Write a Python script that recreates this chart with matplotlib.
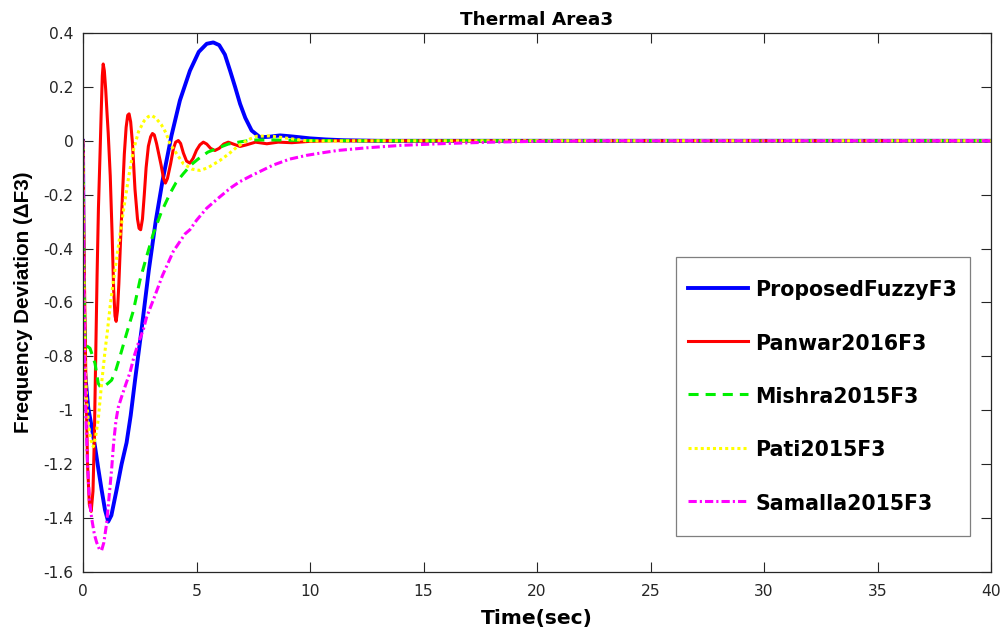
import matplotlib
matplotlib.use("Agg")
import matplotlib.pyplot as plt
from matplotlib.legend_handler import HandlerLine2D

plt.rcParams['font.family'] = ['DejaVu Sans']
plt.rcParams['axes.unicode_minus'] = False

# ---------------- data ----------------
series_labels = ["ProposedFuzzyF3", "Panwar2016F3", "Mishra2015F3", "Pati2015F3", "Samalla2015F3"]

t_fuzzy = [0, 0.03, 0.09, 0.23, 0.4, 0.53, 0.68, 0.82, 0.97, 1.11, 1.25, 1.48, 1.7, 1.92, 2.1,
           2.29, 2.58, 2.9, 3.2, 3.5, 3.9, 4.27, 4.71, 5.1, 5.45, 5.74, 6.0, 6.25, 6.48, 6.7,
           6.92, 7.15, 7.43, 7.8, 8.2, 8.68, 9.1, 9.56, 10.0, 10.7, 11.5, 13, 40]
v_fuzzy = [0, -0.55, -0.86, -0.99, -1.07, -1.135, -1.22, -1.295, -1.37, -1.413, -1.39, -1.295, -1.2, -1.12, -1.02,
           -0.89, -0.70, -0.48, -0.30, -0.15, 0.02, 0.15, 0.26, 0.33, 0.36, 0.365, 0.355, 0.32, 0.26, 0.2,
           0.137, 0.085, 0.038, 0.013, 0.015, 0.02, 0.017, 0.013, 0.009, 0.005, 0.002, 0, 0]

t_panwar = [0, 0.05, 0.12, 0.2, 0.28, 0.36, 0.44, 0.5, 0.56, 0.62, 0.68, 0.75, 0.8, 0.85, 0.89,
            0.94, 1.0, 1.06, 1.11, 1.2, 1.28, 1.35, 1.41, 1.46, 1.52, 1.58, 1.65, 1.74, 1.82, 1.9,
            1.97, 2.03, 2.1, 2.18, 2.29, 2.4, 2.47, 2.54, 2.62, 2.7, 2.78, 2.88, 2.98, 3.06, 3.14,
            3.24, 3.34, 3.44, 3.55, 3.63, 3.72, 3.86, 3.98, 4.08, 4.2, 4.3, 4.42, 4.56, 4.71, 4.85,
            5.0, 5.15, 5.3, 5.45, 5.62, 5.81, 6.0, 6.2, 6.4, 6.65, 6.92, 7.2, 7.6, 8.1, 8.6,
            9.2, 10, 11, 40]
v_panwar = [0, -0.45, -0.85, -1.2, -1.35, -1.375, -1.3, -1.1, -0.8, -0.5, -0.25, -0.05, 0.1, 0.24, 0.285,
            0.26, 0.19, 0.1, 0.03, -0.13, -0.34, -0.55, -0.65, -0.67, -0.63, -0.53, -0.38, -0.2, -0.05, 0.05,
            0.095, 0.10, 0.07, -0.01, -0.18, -0.29, -0.325, -0.33, -0.29, -0.2, -0.1, -0.02, 0.015, 0.027, 0.022,
            -0.01, -0.05, -0.09, -0.14, -0.157, -0.14, -0.085, -0.03, -0.005, 0.001, -0.01, -0.045, -0.075, -0.083, -0.065,
            -0.035, -0.015, -0.005, -0.012, -0.028, -0.036, -0.028, -0.012, -0.005, -0.013, -0.021, -0.015, -0.005, -0.011, -0.005,
            -0.007, -0.002, 0, 0]

t_mishra = [0, 0.03, 0.08, 0.15, 0.31, 0.53, 0.67, 0.78, 0.95, 1.1, 1.26, 1.45, 1.63, 1.92, 2.22,
            2.51, 2.8, 3.1, 3.45, 3.83, 4.1, 4.42, 4.75, 5.08, 5.5, 6.03, 6.4, 6.92, 7.5, 8.5,
            10, 12, 40]
v_mishra = [0, -0.45, -0.72, -0.76, -0.77, -0.826, -0.9, -0.915, -0.91, -0.9, -0.888, -0.85, -0.80, -0.715, -0.63,
            -0.517, -0.43, -0.344, -0.265, -0.196, -0.155, -0.122, -0.09, -0.067, -0.042, -0.024, -0.012, -0.004, 0.003, 0.003,
            0.001, 0, 0]

t_pati = [0, 0.03, 0.08, 0.15, 0.25, 0.35, 0.45, 0.55, 0.67, 0.82, 0.97, 1.07, 1.2, 1.34, 1.56,
          1.78, 2.0, 2.22, 2.45, 2.7, 2.88, 3.02, 3.2, 3.45, 3.65, 3.83, 4.1, 4.42, 4.8, 5.15,
          5.5, 6.03, 6.4, 6.77, 7.1, 7.36, 7.65, 8.2, 8.7, 9.3, 9.85, 11, 12, 40]
v_pati = [0, -0.45, -0.8, -0.95, -1.06, -1.11, -1.135, -1.1, -1.035, -0.9, -0.78, -0.71, -0.61, -0.52, -0.39,
          -0.26, -0.14, -0.035, 0.035, 0.075, 0.09, 0.094, 0.085, 0.06, 0.03, -0.011, -0.045, -0.085, -0.105, -0.11,
          -0.1, -0.073, -0.05, -0.024, -0.005, 0.007, 0.017, 0.018, 0.013, 0.006, 0.0, -0.001, 0, 0]

t_samalla = [0, 0.03, 0.07, 0.12, 0.2, 0.28, 0.38, 0.5, 0.6, 0.72, 0.82, 0.92, 1.04, 1.15, 1.26,
             1.35, 1.45, 1.55, 1.7, 1.9, 2.07, 2.25, 2.44, 2.66, 2.8, 3.1, 3.5, 3.98, 4.5, 4.71,
             5.0, 5.45, 6.0, 6.5, 6.9, 7.4, 8.38, 9.1, 9.85, 10.5, 11.2, 12.5, 14, 16, 18,
             20, 23, 40]
v_samalla = [0, -0.45, -0.8, -1.0, -1.2, -1.33, -1.40, -1.46, -1.49, -1.515, -1.52, -1.49, -1.42, -1.32, -1.22,
             -1.12, -1.04, -0.99, -0.95, -0.90, -0.86, -0.80, -0.75, -0.70, -0.655, -0.59, -0.50, -0.41, -0.345, -0.33,
             -0.295, -0.25, -0.21, -0.175, -0.152, -0.13, -0.09, -0.068, -0.054, -0.045, -0.036, -0.026, -0.017, -0.01, -0.005,
             -0.002, 0, 0]

x_ticks = [0, 5, 10, 15, 20, 25, 30, 35, 40]
y_ticks = [-1.6, -1.4, -1.2, -1, -0.8, -0.6, -0.4, -0.2, 0, 0.2, 0.4]
y_tick_labels = ["-1.6", "-1.4", "-1.2", "-1", "-0.8", "-0.6", "-0.4", "-0.2", "0", "0.2", "0.4"]

# ---------------- figure ----------------
fig = plt.figure(figsize=(10.03, 6.30), dpi=100)
ax = fig.add_axes([83 / 1003, 1 - 572 / 630, (991 - 83) / 1003, (572 - 33) / 630])

lines = []
lines += ax.plot(t_fuzzy, v_fuzzy, color='#0000ff', lw=2.8, label=series_labels[0])
lines += ax.plot(t_panwar, v_panwar, color='#ff0000', lw=2.2, label=series_labels[1])
lines += ax.plot(t_mishra, v_mishra, color='#00f000', lw=2.2, linestyle=(0, (3.3, 2.3)), label=series_labels[2])
lines += ax.plot(t_pati, v_pati, color='#ffff00', lw=2.2, linestyle=(0, (1, 1)), label=series_labels[3])
lines += ax.plot(t_samalla, v_samalla, color='#ff00ff', lw=2.2, linestyle=(0, (2.7, 1, 0.7, 1)), label=series_labels[4])

ax.set_xlim(0, 40)
ax.set_ylim(-1.6, 0.4)
ax.set_xticks(x_ticks)
ax.set_xticklabels([str(v) for v in x_ticks])
ax.set_yticks(y_ticks)
ax.set_yticklabels(y_tick_labels)

ax.tick_params(direction='in', length=7, width=0.8, top=True, right=True,
               labelsize=11.2, colors='#262626')
ax.tick_params(axis='x', pad=8.5)
ax.tick_params(axis='y', pad=7)
for s in ax.spines.values():
    s.set_color('#262626')
    s.set_linewidth(0.9)

ax.set_title("Thermal Area3", fontsize=13.3, fontweight='bold', pad=6)
ax.set_xlabel("Time(sec)", fontsize=14.6, fontweight='bold', labelpad=7)
ax.set_ylabel("Frequency Deviation (ΔF3)", fontsize=14.9, fontweight='bold', labelpad=7,
              family=['Liberation Sans', 'DejaVu Sans'])


def _centre_handle(legend_handle, orig_handle):
    # copy style and move the sample line down onto the text centre
    legend_handle.update_from(orig_handle)
    legend_handle.set_ydata(legend_handle.get_ydata() - 3.2)


handler = HandlerLine2D(update_func=_centre_handle)
leg = ax.legend(handles=lines, handler_map={ln: handler for ln in lines},
                loc='lower right', bbox_to_anchor=((970 - 83) / 908, (572 - 536) / 539),
                prop={'weight': 'bold', 'size': 14.8}, frameon=True, fancybox=False,
                framealpha=1, edgecolor='#7f7f7f', handlelength=2.92, handletextpad=0.34,
                handleheight=2.6, labelspacing=0.66, borderpad=0.62, borderaxespad=0)
leg.get_frame().set_linewidth(0.9)

fig.savefig("out.png", dpi=100)
